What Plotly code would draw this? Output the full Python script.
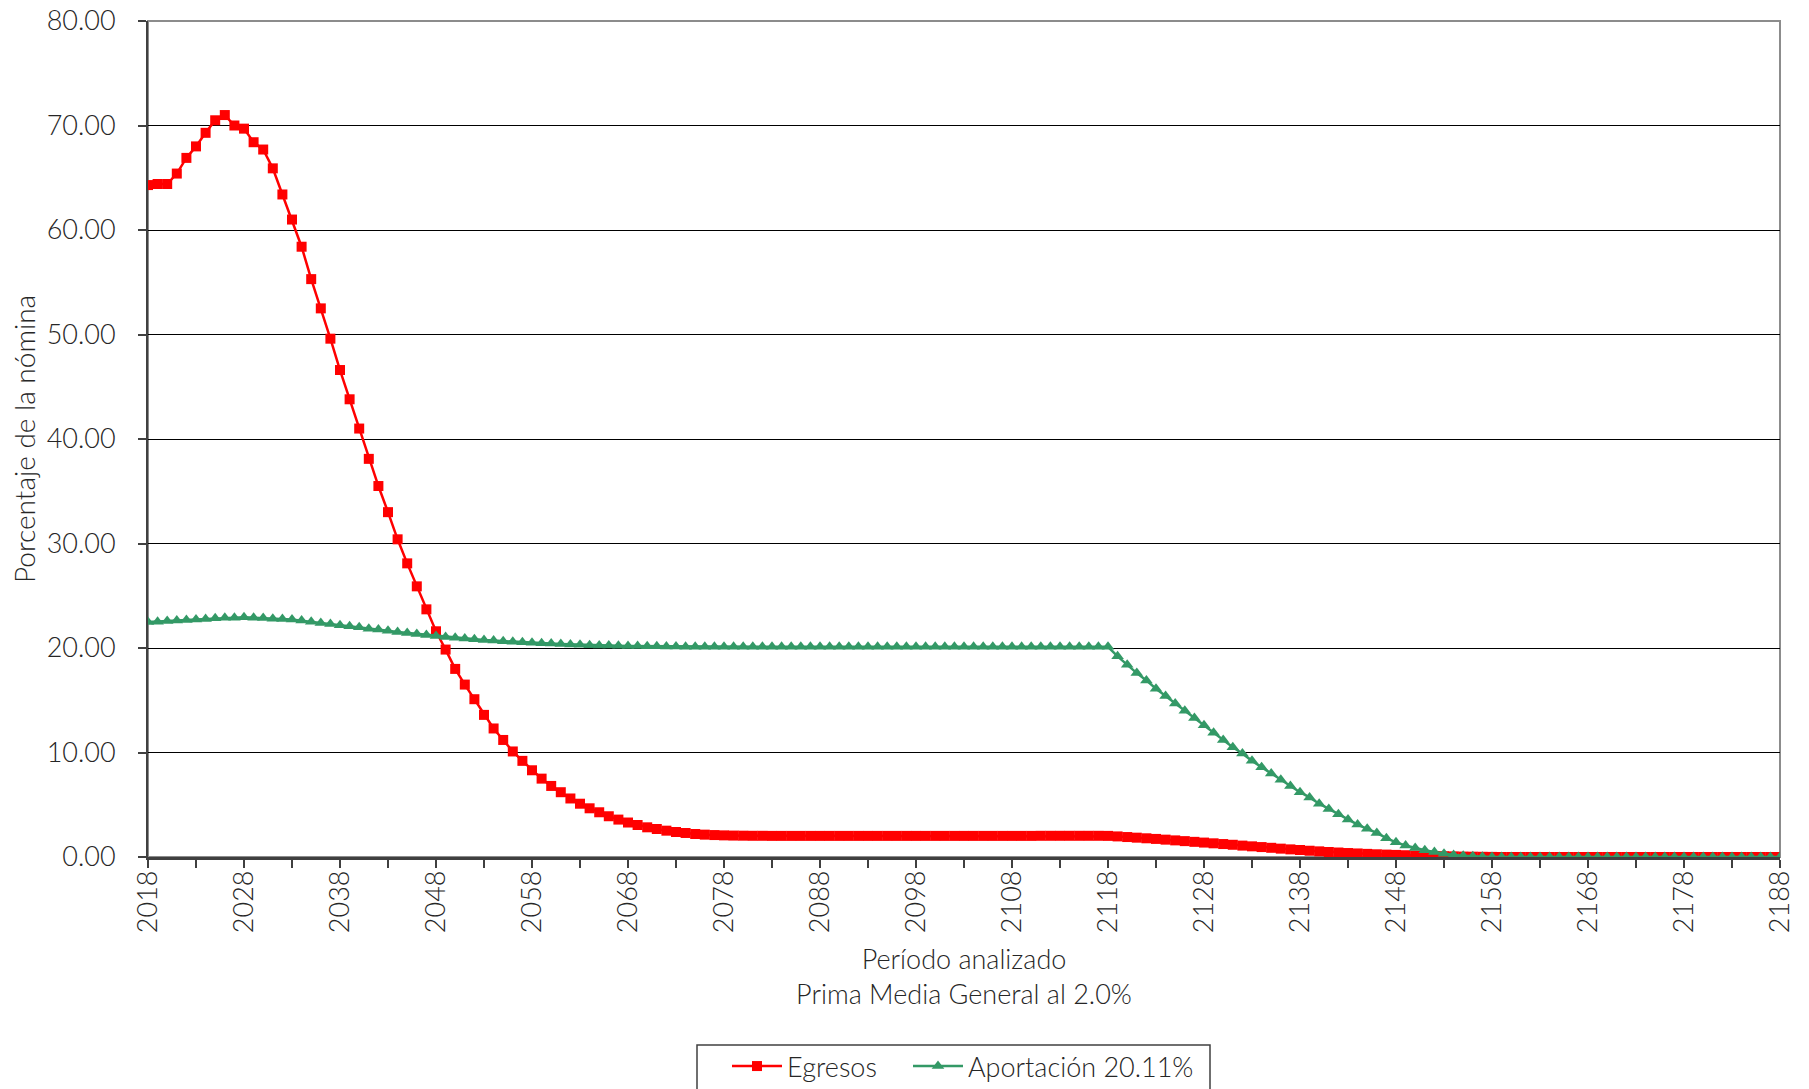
import plotly.graph_objects as go

years = list(range(2018, 2189))

egresos = [
    64.3, 64.4, 64.4, 65.4, 66.9, 68.0, 69.3, 70.5, 71.0, 70.0,
    69.7, 68.4, 67.7, 65.9, 63.4, 61.0, 58.4, 55.3, 52.5, 49.6,
    46.6, 43.8, 41.0, 38.1, 35.5, 33.0, 30.4, 28.1, 25.9, 23.7,
    21.6, 19.85, 18.0, 16.5, 15.1, 13.6, 12.3, 11.2, 10.1, 9.2,
    8.3, 7.5, 6.8, 6.2, 5.6, 5.1, 4.66, 4.28, 3.9, 3.58,
    3.3, 3.06, 2.84, 2.68, 2.52, 2.39, 2.3, 2.2, 2.14, 2.1,
    2.07, 2.05, 2.04, 2.03, 2.03, 2.02, 2.02, 2.02, 2.02, 2.02,
    2.02, 2.02, 2.02, 2.02, 2.02, 2.02, 2.02, 2.02, 2.02, 2.02,
    2.02, 2.02, 2.02, 2.02, 2.02, 2.02, 2.02, 2.02, 2.02, 2.02,
    2.02, 2.02, 2.02, 2.03, 2.03, 2.03, 2.03, 2.03, 2.03, 2.03,
    2.02, 1.97, 1.91, 1.85, 1.79, 1.73, 1.66, 1.59, 1.52, 1.45,
    1.38, 1.31, 1.24, 1.17, 1.09, 1.02, 0.95, 0.88, 0.80, 0.73,
    0.67, 0.60, 0.54, 0.48, 0.43, 0.38, 0.34, 0.30, 0.26, 0.23,
    0.20, 0.17, 0.14, 0.12, 0.10, 0.08, 0.06, 0.04, 0.03, 0.02,
    0.01, 0, 0, 0, 0, 0, 0, 0, 0, 0,
    0, 0, 0, 0, 0, 0, 0, 0, 0, 0,
    0, 0, 0, 0, 0, 0, 0, 0, 0, 0,
    0,
]

aportacion = [
    22.49, 22.52, 22.59, 22.62, 22.68, 22.72, 22.78, 22.84, 22.90, 22.90,
    22.94, 22.90, 22.87, 22.81, 22.78, 22.72, 22.62, 22.52, 22.39, 22.30,
    22.17, 22.08, 21.98, 21.85, 21.76, 21.66, 21.53, 21.44, 21.34, 21.25,
    21.15,
    21.06, 20.98, 20.91, 20.84, 20.77, 20.71, 20.65, 20.60, 20.55, 20.50,
    20.46, 20.42, 20.38, 20.34, 20.30, 20.27, 20.25, 20.23, 20.21, 20.19,
    20.18, 20.17, 20.16, 20.15, 20.14, 20.13, 20.13, 20.12, 20.12, 20.12,
    20.11, 20.11,
    20.11, 20.11, 20.11, 20.11, 20.11, 20.11, 20.11, 20.11, 20.11, 20.11,
    20.11, 20.11, 20.11, 20.11, 20.11, 20.11, 20.11, 20.11, 20.11, 20.11,
    20.11, 20.11, 20.11, 20.11, 20.11, 20.11, 20.11, 20.11, 20.11, 20.11,
    20.11, 20.11, 20.11, 20.11, 20.11, 20.11, 20.11, 20.11,
    19.2, 18.4, 17.6, 16.9, 16.1, 15.4, 14.7, 14.0, 13.3, 12.6,
    11.9, 11.2, 10.5, 9.9, 9.2, 8.6, 8.0, 7.4, 6.8, 6.2,
    5.7, 5.1, 4.6, 4.1, 3.6, 3.1, 2.7, 2.3, 1.8, 1.4,
    1.1, 0.85, 0.65, 0.47, 0.32, 0.2, 0.12, 0.06, 0.03, 0.01,
    0, 0, 0, 0, 0, 0, 0, 0, 0, 0,
    0, 0, 0, 0, 0, 0, 0, 0, 0, 0,
    0, 0, 0, 0, 0, 0, 0, 0, 0, 0,
]

x_tick_vals = list(range(2018, 2189, 10))
y_tick_vals = [0, 10, 20, 30, 40, 50, 60, 70, 80]

series_names = ["Egresos", "Aportación 20.11%"]
x_title = "Período analizado<br>Prima Media General al 2.0%"
y_title = "Porcentaje de la nómina"

FS = 27
FONT = dict(family="Lato, 'Open Sans', sans-serif", size=FS, color="#262626", weight=300)

# page body has an 8px default margin; compensate so the plot area lands at 148..1780 x 21..857
L, R, T, B = 140, 37, 13, 240
PLOT_H = 1089 - T - B

def py(fig_y):
    return (1089 - B - fig_y) / PLOT_H

def px(fig_x):
    return (fig_x - L) / (1809 - L - R)

fig = go.Figure()
fig.add_trace(go.Scatter(
    x=years, y=egresos, name=series_names[0], mode="lines+markers",
    line=dict(color="#FF0000", width=2.5),
    marker=dict(symbol="square", size=10, color="#FF0000"),
    legend="legend",
))
fig.add_trace(go.Scatter(
    x=years, y=aportacion, name=series_names[1], mode="lines+markers",
    line=dict(color="#339966", width=2.5),
    marker=dict(symbol="triangle-up", size=11, color="#339966"),
    legend="legend2",
))

leg_common = dict(orientation="h", xanchor="left", yanchor="top", borderwidth=0,
                  font=dict(size=FS), bgcolor="rgba(0,0,0,0)", itemwidth=50)

fig.update_layout(
    width=1809, height=1089,
    margin=dict(l=L, r=R, t=T, b=B, autoexpand=False),
    paper_bgcolor="white", plot_bgcolor="white",
    font=FONT,
    showlegend=True,
    legend=dict(x=px(719), y=py(1034), **leg_common),
    legend2=dict(x=px(900), y=py(1034), **leg_common),
    shapes=[
        dict(type="rect", xref="paper", yref="paper", x0=0, y0=0, x1=1, y1=1,
             line=dict(color="#8c8c8c", width=2), layer="below"),
        dict(type="rect", xref="paper", yref="paper", x0=px(689), x1=px(1202),
             y0=py(1037), y1=py(1110), line=dict(color="#404040", width=1.5),
             fillcolor="rgba(0,0,0,0)"),
    ],
    annotations=[
        dict(text=y_title, xref="paper", yref="paper", x=px(16), y=0.5,
             textangle=-90, showarrow=False, xanchor="center", yanchor="middle",
             font=dict(size=28)),
    ],
)

fig.update_xaxes(
    range=[2018, 2188], tickmode="array", tickvals=x_tick_vals,
    ticktext=[str(v) for v in x_tick_vals], tickangle=-90,
    ticks="outside", ticklen=8, tickcolor="#404040", tickwidth=1.5,
    ticklabelstandoff=-8, ticklabeloverflow="allow",
    minor=dict(dtick=5, tick0=2018, ticks="outside", ticklen=8, tickcolor="#404040", tickwidth=1.5, showgrid=False),
    showline=True, linecolor="#404040", linewidth=2.5,
    showgrid=False, zeroline=False, automargin=False,
    title=dict(text=x_title, standoff=18, font=dict(size=FS)),
)
fig.update_yaxes(
    range=[0, 80], tickmode="array", tickvals=y_tick_vals, tickformat=".2f",
    ticks="outside", ticklen=8, tickcolor="#404040", tickwidth=1.5,
    ticklabelstandoff=17, ticklabeloverflow="allow",
    showline=True, linecolor="#404040", linewidth=2,
    showgrid=True, gridcolor="#000000", gridwidth=1, zeroline=False, automargin=False,
)

fig.write_html("out.html")
